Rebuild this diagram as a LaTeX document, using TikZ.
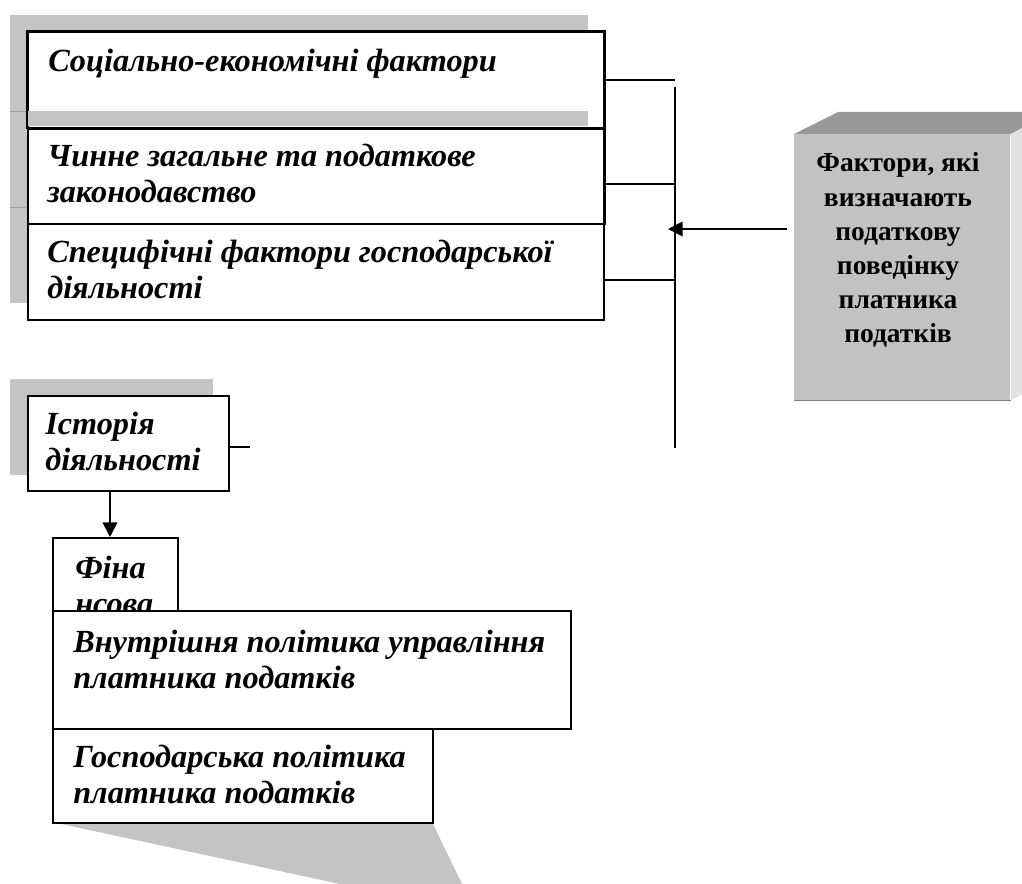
\documentclass[tikz,border=0pt]{standalone}
\usepackage{fontspec}
\setmainfont{Liberation Serif}
\usetikzlibrary{arrows.meta,calc}
\definecolor{shadowgray}{RGB}{196,196,196}
\definecolor{edgegray}{RGB}{160,160,160}
\definecolor{topface}{RGB}{153,153,153}
\definecolor{frontface}{RGB}{194,194,194}
\definecolor{sideface}{RGB}{226,226,226}
\begin{document}
\begin{tikzpicture}[x=0.75pt,y=-0.75pt,
  box/.style={draw=black, line width=1.4pt, fill=white, rectangle, inner sep=0pt, anchor=north west},
  shade3/.style={fill=shadowgray, draw=none},
  lbl/.style={anchor=base west, inner sep=0pt, font=\fontsize{24.2}{27}\selectfont\bfseries\itshape},
  rlbl/.style={anchor=base, inner sep=0pt, font=\fontsize{20.6}{25.6}\selectfont\bfseries},
  conn/.style={line width=1.4pt},
  arr/.style={line width=1.4pt, -{Triangle[length=11pt,width=11pt]}},
]
\useasboundingbox (0,0) rectangle (1022,884);
\clip (0,0) rectangle (1022,884);

% ---- upper group: shadow and boxes
\fill[shade3] (10,15) rectangle (588,303);
\node[box, minimum width=432pt, minimum height=72pt] (b1) at (27,31) {};
\node[box, minimum width=432pt, minimum height=72pt] (b2) at (27,127) {};
\node[box, minimum width=432pt, minimum height=72pt] (b3) at (27,223) {};
\fill[shade3] (27.9,111) rectangle (588,126);
\draw[edgegray, line width=0.6pt] (10,111) -- (26,111);
\draw[edgegray, line width=0.6pt] (10,207) -- (26,207);
\draw[line width=1.4pt] (b1.south west) -- (b1.north west) -- (b1.north east) -- (b1.south east) -- (b2.south east);
\draw[line width=1.4pt] (b1.south west) -- (b1.south east);

\node[lbl] (t1) at (48,72) {\parbox[t]{540pt}{Соціально-економічні фактори}};
\node[lbl] (t2) at (47,167) {\parbox[t]{540pt}{Чинне загальне та податкове\\законодавство}};
\node[lbl] (t3) at (47,263) {\parbox[t]{540pt}{Специфічні фактори господарської\\діяльності}};

% ---- connectors on the right of the upper group
\coordinate (vtop) at (675,87);
\coordinate (vbot) at (675,448);
\draw[conn] (vtop) -- (vbot);
\draw[conn] (b1.east) -- (b1.east -| vtop);
\draw[conn] ($(b2.east)+(0,8)$) -- ($(b2.east -| vtop)+(0,8)$);
\draw[conn] ($(b3.east)+(0,8)$) -- ($(b3.east -| vtop)+(0,8)$);

% ---- 3D box on the right
\node[rectangle, draw=none, fill=frontface, inner sep=0pt, anchor=north west,
      minimum width=162pt, minimum height=199.5pt] (rb) at (794,134) {};
\fill[topface] (rb.north west) -- ++(44,-22) -- ($(rb.north east)+(44,-22)$) -- (rb.north east) -- cycle;
\fill[sideface] (rb.north east) -- ++(44,-22) -- ($(rb.south east)+(44,-22)$) -- (rb.south east) -- cycle;
\draw[gray, line width=0.8pt] (rb.south west) -- (rb.south east);
\node[rlbl] (rt) at (898,172) {\parbox[t]{162pt}{\centering Фактори, які\\визначають\\податкову\\поведінку\\платника\\податків}};

\coordinate (as) at (787,229);
\coordinate (ae) at (668,229);
\draw[arr] (as) -- (ae);

% ---- lower group
\fill[shade3] (10,379) rectangle (213,475);
\node[box, minimum width=150.75pt, minimum height=71.25pt] (ist) at (27,395) {};
\node[lbl] (tist) at (45,435) {\parbox[t]{150pt}{Історія\\діяльності}};
\draw[conn] ($(ist.east)+(0,3.5)$) -- ++(20,0);

\node[box, minimum width=93.75pt, minimum height=60pt] (fin) at (52,537) {};
\node[lbl] (tfin) at (75,578) {\parbox[t]{90pt}{Фіна\\нсова}};
\coordinate (ax) at (110,0);
\draw[arr] (ist.south -| ax) -- (fin.north -| ax);

\fill[shade3] (52,822) -- (432,822) -- (462,884) -- (340,884) -- cycle;
\node[box, minimum width=388.5pt, minimum height=88.5pt] (vn) at (52,610) {};
\node[lbl] (tvn) at (73,652) {\parbox[t]{380pt}{Внутрішня політика управління\\платника податків}};
\node[box, minimum width=285pt, minimum height=70.5pt] (gp) at (52,728) {};
\node[lbl] (tgp) at (73,767) {\parbox[t]{280pt}{Господарська політика\\платника податків}};
\end{tikzpicture}
\end{document}
